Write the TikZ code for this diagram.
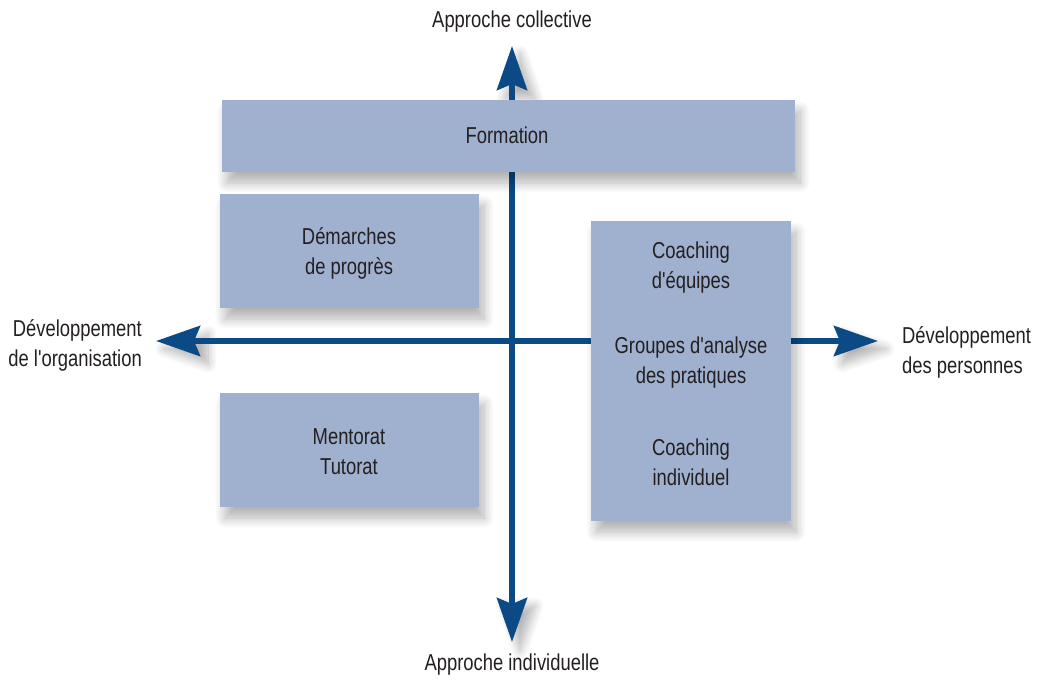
\documentclass[tikz,border=0pt]{standalone}
\usepackage{fontspec}
\newfontfamily\lblfont{Liberation Sans}[FakeStretch=0.80]
\usetikzlibrary{arrows.meta,shadows.blur}
\definecolor{boxfill}{HTML}{A0B0CF}
\definecolor{axiscol}{HTML}{0B4A85}
\definecolor{txt}{HTML}{231F20}
\tikzset{
  box/.style={fill=boxfill, draw=none, blur shadow={shadow xshift=5pt, shadow yshift=-11pt, shadow blur steps=12, shadow opacity=30, shadow blur radius=10pt}},
  tipshadow/.style={draw=none, blur shadow={shadow xshift=8pt, shadow yshift=-8pt, shadow blur steps=10, shadow opacity=30, shadow blur radius=9pt}},
  lbl/.style={text=txt, font=\lblfont\fontsize{23}{30}\selectfont, align=center, inner sep=0pt},
  axis/.style={draw=axiscol, line width=6pt, -{Stealth[length=44pt, width=30pt, inset=6pt]}},
}
\begin{document}
\begin{tikzpicture}[x=1pt, y=-1pt]
\useasboundingbox (0,0) rectangle (1041,682);
% arrow tip shadows
\path[tipshadow] (512,46) -- (497,90) -- (527,90) -- cycle;
\path[tipshadow] (512,642) -- (497,598) -- (527,598) -- cycle;
\path[tipshadow] (156,341) -- (200,326) -- (200,356) -- cycle;
\path[tipshadow] (878,341) -- (834,326) -- (834,356) -- cycle;
% axes
\coordinate (C) at (512,341);
\coordinate (T) at (512,46);
\coordinate (B) at (512,642);
\coordinate (L) at (156,341);
\coordinate (R) at (878,341);
\draw[axis] (C) -- (T);
\draw[axis] (C) -- (B);
\draw[axis] (C) -- (L);
\draw[axis] (C) -- (R);
% boxes
\path[box] (222,100) rectangle (795,172);
\path[box] (220,194) rectangle (479,308);
\path[box] (220,393) rectangle (479,507);
\path[box] (591,221) rectangle (791,521);
\node[lbl] (formation) at (507,135) {Formation};
\node[lbl] (demarches) at (349,253) {Démarches\\de progrès};
\node[lbl] (mentorat) at (349,452) {Mentorat\\Tutorat};
\node[lbl] (coachequ) at (691,268) {Coaching\\d'équipes};
\node[lbl] (groupes) at (691,363) {Groupes d'analyse\\des pratiques};
\node[lbl] (coachind) at (691,462) {Coaching\\individuel};
% axis labels
\node[lbl] (top) at (512,22) {Approche collective};
\node[lbl] (bottom) at (512,665) {Approche individuelle};
\node[lbl, align=right, anchor=east] (left) at (142,345) {Développement\\de l'organisation};
\node[lbl, align=left, anchor=west] (right) at (902,352) {Développement\\des personnes};
\end{tikzpicture}
\end{document}
